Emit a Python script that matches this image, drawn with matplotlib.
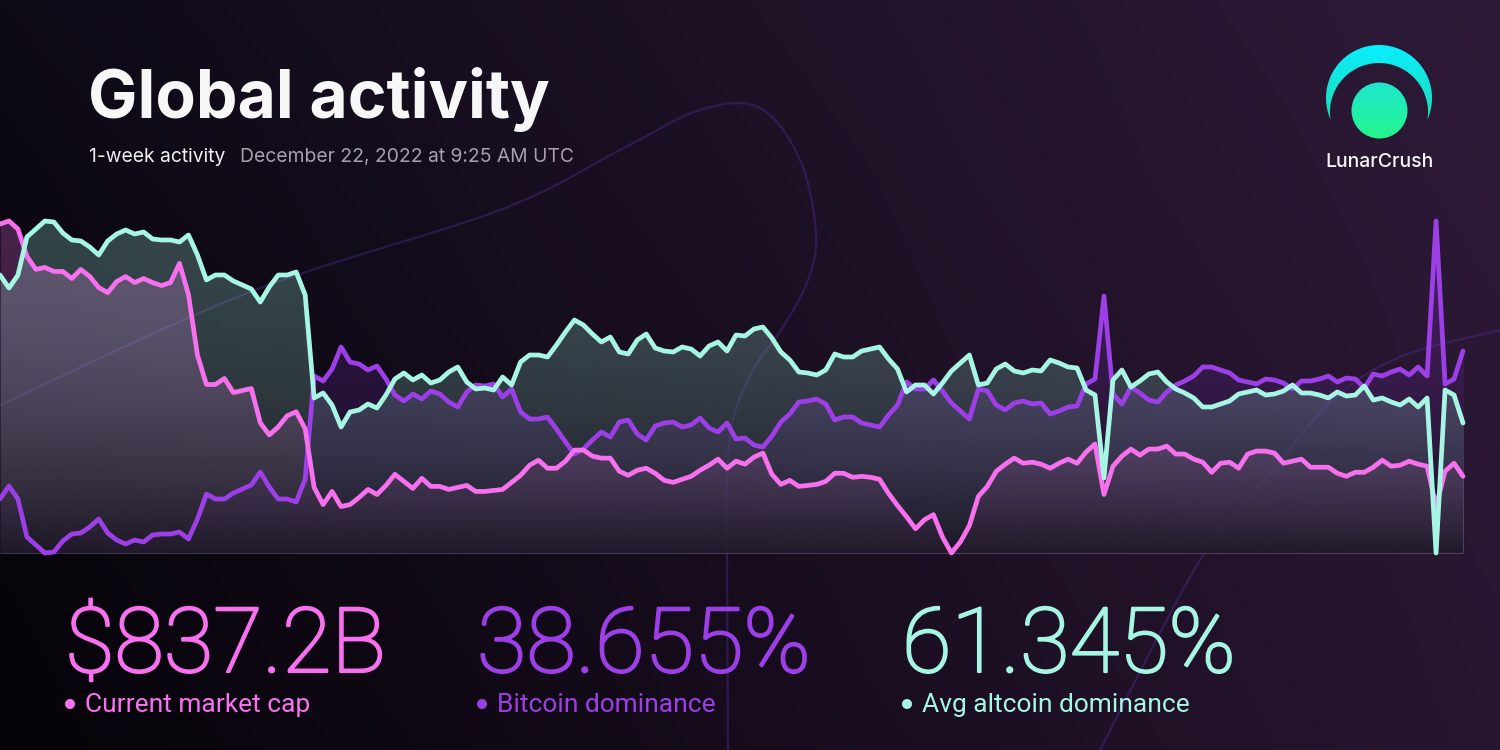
import matplotlib
matplotlib.use('Agg')
import matplotlib.pyplot as plt
import matplotlib.patheffects as pe
from matplotlib.patches import Polygon, Circle
import numpy as np

# hourly samples over the week ending Dec 22, 2022
market_cap = [
    862.2, 862.5, 861.7, 859.0, 857.7, 857.9, 857.5, 857.5, 856.8, 857.7,
    857.0, 855.9, 855.4, 856.5, 857.0, 856.4, 856.8, 856.4, 856.1, 856.4,
    858.3, 855.2, 849.2, 846.3, 846.3, 846.9, 845.5, 845.7, 845.9, 842.5,
    841.3, 842.1, 843.2, 843.6, 841.9, 836.1, 834.4, 835.7, 834.2, 834.4,
    835.1, 835.9, 835.4, 836.3, 837.4, 836.7, 836.0, 837.0, 836.2, 836.2,
    835.9, 836.1, 836.3, 835.7, 835.7, 835.8, 835.9, 836.6, 837.3, 838.3,
    838.8, 838.0, 838.0, 838.7, 839.8, 839.8, 839.2, 839.0, 839.0, 837.7,
    837.3, 837.8, 838.0, 837.5, 836.8, 836.6, 836.9, 837.2, 837.8, 838.3,
    838.9, 838.0, 838.7, 838.4, 839.1, 839.5, 837.4, 836.4, 836.8, 836.2,
    836.3, 836.4, 836.7, 837.5, 837.5, 837.1, 837.2, 837.1, 836.9, 835.5,
    834.3, 833.2, 832.0, 832.9, 833.4, 831.2, 829.6, 830.7, 832.3, 835.2,
    836.2, 837.7, 838.4, 839.0, 838.5, 838.6, 838.4, 838.0, 838.5, 838.9,
    838.5, 839.6, 840.4, 835.4, 838.2, 839.2, 839.9, 839.3, 839.9, 839.9,
    840.2, 839.4, 839.4, 838.9, 838.6, 837.6, 838.5, 838.6, 838.0, 839.4,
    839.7, 839.7, 839.5, 838.5, 838.7, 838.9, 838.1, 838.1, 838.1, 837.5,
    837.2, 837.6, 837.6, 838.1, 838.8, 838.2, 838.3, 838.7, 838.4, 838.2,
    834.2, 837.7, 838.5, 837.2,
]

btc_dominance = [
    38.359, 38.385, 38.359, 38.283, 38.267, 38.251, 38.253, 38.275, 38.289, 38.291,
    38.303, 38.319, 38.291, 38.277, 38.269, 38.277, 38.273, 38.287, 38.289, 38.289,
    38.293, 38.279, 38.319, 38.369, 38.359, 38.359, 38.371, 38.379, 38.387, 38.413,
    38.383, 38.359, 38.359, 38.353, 38.399, 38.605, 38.595, 38.619, 38.663, 38.633,
    38.629, 38.617, 38.625, 38.599, 38.567, 38.555, 38.569, 38.559, 38.575, 38.569,
    38.553, 38.543, 38.573, 38.587, 38.585, 38.589, 38.563, 38.579, 38.533, 38.519,
    38.519, 38.523, 38.499, 38.473, 38.449, 38.459, 38.477, 38.493, 38.483, 38.513,
    38.517, 38.489, 38.477, 38.505, 38.511, 38.513, 38.503, 38.507, 38.521, 38.501,
    38.493, 38.511, 38.479, 38.481, 38.467, 38.463, 38.485, 38.513, 38.529, 38.553,
    38.555, 38.559, 38.549, 38.517, 38.523, 38.523, 38.511, 38.507, 38.503, 38.527,
    38.547, 38.593, 38.579, 38.579, 38.597, 38.575, 38.551, 38.535, 38.519, 38.579,
    38.575, 38.547, 38.537, 38.551, 38.555, 38.549, 38.551, 38.529, 38.535, 38.543,
    38.545, 38.589, 38.599, 38.765, 38.569, 38.549, 38.583, 38.571, 38.557, 38.553,
    38.573, 38.587, 38.595, 38.605, 38.623, 38.623, 38.617, 38.611, 38.597, 38.593,
    38.589, 38.599, 38.597, 38.591, 38.579, 38.595, 38.595, 38.599, 38.605, 38.593,
    38.601, 38.599, 38.581, 38.609, 38.605, 38.613, 38.619, 38.607, 38.623, 38.605,
    38.915, 38.589, 38.599, 38.655,
]

# altcoins take the rest of the market
alt_dominance = [round(100 - v, 3) for v in btc_dominance]

title = "Global activity"
subtitle_left = "1-week activity"
subtitle_right = "December 22, 2022 at 9:25 AM UTC"
brand = "LunarCrush"
stat_values = ["$837.2B", "38.655%", "61.345%"]
stat_labels = ["Current market cap", "Bitcoin dominance", "Avg altcoin dominance"]

PINK = '#f771ef'
PURPLE = '#9c3fe6'
CYAN = '#a7f6e4'
stat_colors = [PINK, PURPLE, CYAN]

W, H = 1500, 750
fig = plt.figure(figsize=(15, 7.5), dpi=100)


def smooth(pts, n=40):
    # catmull-rom through a few guide points (decoration only)
    p = np.asarray(pts, float)
    p = np.vstack([p[0], p, p[-1]])
    out = []
    for i in range(1, len(p) - 2):
        t = np.linspace(0, 1, n)[:, None]
        p0, p1, p2, p3 = p[i - 1], p[i], p[i + 1], p[i + 2]
        out.append(0.5 * ((2 * p1) + (-p0 + p2) * t + (2 * p0 - 5 * p1 + 4 * p2 - p3) * t ** 2
                          + (-p0 + 3 * p1 - 3 * p2 + p3) * t ** 3))
    return np.vstack(out)


# background
bg = fig.add_axes([0, 0, 1, 1], zorder=-10)
gx = np.linspace(0, 1, 300)[None, :, None]
gy = np.linspace(0, 1, 150)[:, None, None]
tl = np.array([14, 10, 22]) / 255
tr = np.array([46, 26, 56]) / 255
bl = np.array([5, 3, 8]) / 255
br = np.array([40, 21, 48]) / 255
img = (1 - gy) * ((1 - gx) * tl + gx * tr) + gy * ((1 - gx) * bl + gx * br)
bg.imshow(img, extent=[0, W, H, 0], aspect='auto', interpolation='bilinear')

deco = [
    [(0, 405), (250, 292), (500, 210), (620, 150), (700, 110), (760, 108),
     (800, 160), (816, 233), (808, 280), (783, 327), (753, 370),
     (733, 420), (727, 480), (727, 560), (728, 750)],
    [(1100, 750), (1200, 560), (1267, 477), (1333, 400), (1400, 357), (1500, 330)],
]
for d in deco:
    c = smooth(d)
    bg.plot(c[:, 0], c[:, 1], color='#4a2a8a', lw=1.6, alpha=0.45)

bg.set_xlim(0, W)
bg.set_ylim(H, 0)
bg.axis('off')

# chart
ax = fig.add_axes([0, (H - 553) / H, 1463 / W, 332 / H], zorder=0)
ax.patch.set_alpha(0)
x = np.arange(len(market_cap))


def norm(v):
    v = np.asarray(v, float)
    return (v - v.min()) / (v.max() - v.min())


series = [
    (norm(btc_dominance), PURPLE, 0.20, 3),
    (norm(market_cap), PINK, 0.25, 4),
    (norm(alt_dominance), CYAN, 0.25, 5),
]

for y, c, a, z in series:
    ax.fill_between(x, y, 0, color=c, alpha=a, lw=0, zorder=1)

env = np.maximum.reduce([s[0] for s in series])
verts = np.column_stack([np.r_[x, x[::-1]], np.r_[env, np.zeros(len(x))]])
clip = Polygon(verts, closed=True, transform=ax.transData, fc='none', ec='none')
ax.add_patch(clip)
shade = np.zeros((256, 1, 4))
shade[..., :3] = np.array([18, 13, 24]) / 255
shade[:, 0, 3] = 0.85 * np.linspace(0, 1, 256) ** 2
im = ax.imshow(shade, extent=[0, x[-1], 0, 1], aspect='auto', zorder=2,
               interpolation='bilinear')
im.set_clip_path(clip)

for y, c, a, z in series:
    ax.plot(x, y, color=c, lw=3.4, zorder=z, clip_on=False,
            solid_joinstyle='round', solid_capstyle='round')

ax.set_xlim(0, x[-1])
ax.set_ylim(0, 1)
ax.axis('off')

# overlay in pixel coordinates for text and logo
ov = fig.add_axes([0, 0, 1, 1], zorder=10)
ov.patch.set_alpha(0)

sans = ['Inter', 'DejaVu Sans']
thin = ['Roboto', 'DejaVu Sans']
label_font = ['Roboto', 'DejaVu Sans']

ov.text(88, 118, title, fontsize=47.5, fontweight='bold', color='#f7f7f7',
        family=sans, va='baseline')
ov.text(89, 162, subtitle_left, fontsize=13.9, color='#f0f0f0', family=sans, va='baseline')
ov.text(240, 162, subtitle_right, fontsize=13.9, color='#a6a1ad', family=sans, va='baseline')

stat_x = [65, 477, 902]
for sx, val, lab, c in zip(stat_x, stat_values, stat_labels, stat_colors):
    t = ov.text(sx, 672, val, fontsize=65, fontweight='light', color=c, family=thin,
                va='baseline')
    t.set_path_effects([pe.withStroke(linewidth=1.6, foreground=c)])
    ov.add_patch(Circle((sx + 5, 704), 5, color=c, lw=0))
    ov.text(sx + 20, 712, lab, fontsize=19, color=c, family=label_font,
            va='baseline')

# logo: crescent + disc with vertical gradients
lx, ly, R = 1379, 98, 53
yi, r_in = 112, 49
ty = (R ** 2 - r_in ** 2) / (2 * (yi - ly)) + (ly + yi) / 2
tdx = np.sqrt(R ** 2 - (ty - ly) ** 2)
a0 = np.arctan2(ty - ly, tdx)
b0 = np.arctan2(ty - yi, tdx)
ta = np.linspace(np.pi - a0, 2 * np.pi + a0, 150)
tb = np.linspace(2 * np.pi + b0, np.pi - b0, 150)
cres = np.r_[np.column_stack([lx + R * np.cos(ta), ly + R * np.sin(ta)]),
             np.column_stack([lx + r_in * np.cos(tb), yi + r_in * np.sin(tb)])]
cres_patch = Polygon(cres, closed=True, fc='none', ec='none')
ov.add_patch(cres_patch)


def vgrad(c0, c1, n=128):
    c0 = np.array(matplotlib.colors.to_rgb(c0))
    c1 = np.array(matplotlib.colors.to_rgb(c1))
    t = np.linspace(0, 1, n)[:, None, None]
    return (1 - t) * c0 + t * c1


g1 = ov.imshow(vgrad('#0aeeff', '#1fdcb4'), extent=[lx - R, lx + R, ty, ly - R],
               aspect='auto', interpolation='bilinear')
g1.set_clip_path(cres_patch)

disc = Circle((1379.5, 110.5), 28, fc='none', ec='none')
ov.add_patch(disc)
g2 = ov.imshow(vgrad('#1fe6d0', '#24f68a'), extent=[1351, 1408, 139, 82],
               aspect='auto', interpolation='bilinear')
g2.set_clip_path(disc)

ov.text(1379.5, 167, brand, fontsize=14, color='#f5f5f5', family=sans,
        ha='center', va='baseline', fontweight='medium')

ov.set_xlim(0, W)
ov.set_ylim(H, 0)
ov.axis('off')

fig.savefig('out.png', dpi=100, facecolor='#0b0812')
